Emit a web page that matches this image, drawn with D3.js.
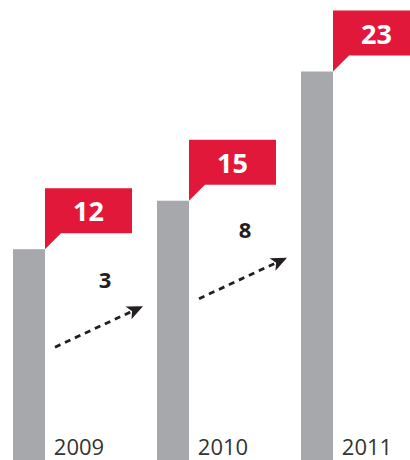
<!DOCTYPE html>
<html>
<head>
<meta charset="utf-8">
<script src="https://cdn.jsdelivr.net/npm/d3@7"></script>
<style>
  html, body { margin: 0; padding: 0; background: #fff; }
  svg { display: block; }
</style>
</head>
<body>
<svg id="chart" width="410" height="460"></svg>
<script>
// Yearly totals and the year-on-year increase shown between bars
const years = ["2009", "2010", "2011"];
const totals = [12, 15, 23];
const increases = [3, 8];

const W = 410, H = 460;
const RED = "#e2183a", GREY = "#a7a8ab", INK = "#231f20";

const svg = d3.select("#chart");

const x = d3.scaleBand()
  .domain(years)
  .range([13, 333])
  .paddingInner(0.7778)
  .paddingOuter(0);

const y = d3.scaleLinear()
  .domain([0, 23])
  .range([443, 71.5]);

const data = years.map((yr, i) => ({ year: yr, value: totals[i] }));

// Bars run to the bottom edge
svg.selectAll("rect.bar")
  .data(data)
  .join("rect")
  .attr("class", "bar")
  .attr("x", d => x(d.year))
  .attr("y", d => y(d.value))
  .attr("width", x.bandwidth())
  .attr("height", d => H - y(d.value))
  .attr("fill", GREY);

// Year labels beside each bar
svg.selectAll("text.year")
  .data(data)
  .join("text")
  .attr("class", "year")
  .attr("x", d => x(d.year) + x.bandwidth() / 2 + 50)
  .attr("y", 455)
  .attr("text-anchor", "middle")
  .attr("font-family", "'Open Sans', sans-serif")
  .attr("font-size", 22)
  .attr("fill", "#333")
  .text(d => d.year);

// Speech-bubble flags carrying each total
const boxW = 87, boxH = 45, tailH = 16, tailW = 16;
const flag = svg.selectAll("g.flag")
  .data(data)
  .join("g")
  .attr("class", "flag")
  .attr("transform", d => `translate(${x(d.year) + x.bandwidth()},${y(d.value)})`);

flag.append("path")
  .attr("d", `M0,0 L0,${-tailH - boxH} L${boxW},${-tailH - boxH} L${boxW},${-tailH} L${tailW},${-tailH} Z`)
  .attr("fill", RED);

flag.append("text")
  .attr("x", boxW / 2)
  .attr("y", -tailH - boxH + 33)
  .attr("text-anchor", "middle")
  .attr("font-family", "'Open Sans', sans-serif")
  .attr("font-weight", 700)
  .attr("font-size", 27)
  .attr("fill", "#fff")
  .text(d => d.value);

// Dashed rising arrows between consecutive bars
increases.forEach((inc, i) => {
  const x0 = x(years[i]) + x.bandwidth() + 10;
  const x1 = x(years[i + 1]) - 14;
  const y0 = y(totals[i]) + 98;
  const y1 = y0 - 41;
  const ang = Math.atan2(y1 - y0, x1 - x0);
  const headL = 16, headW = 7, notch = 4;
  const bx = x1 - headL * Math.cos(ang), by = y1 - headL * Math.sin(ang);
  const nx = -Math.sin(ang), ny = Math.cos(ang);

  svg.append("line")
    .attr("x1", x0).attr("y1", y0)
    .attr("x2", bx + notch * Math.cos(ang)).attr("y2", by + notch * Math.sin(ang))
    .attr("stroke", INK)
    .attr("stroke-width", 2.8)
    .attr("stroke-dasharray", "6,5");

  const mx = bx + notch * Math.cos(ang), my = by + notch * Math.sin(ang);
  svg.append("path")
    .attr("d", `M${x1},${y1} L${bx + headW * nx},${by + headW * ny} L${mx},${my} L${bx - headW * nx},${by - headW * ny} Z`)
    .attr("fill", INK);

  svg.append("text")
    .attr("x", (x0 + x1) / 2 + (i === 0 ? 6 : 2))
    .attr("y", y0 - 60 + (i === 0 ? 1 : -1))
    .attr("text-anchor", "middle")
    .attr("font-family", "'Open Sans', sans-serif")
    .attr("font-weight", 700)
    .attr("font-size", 22)
    .attr("fill", INK)
    .text(inc);
});
</script>
</body>
</html>
